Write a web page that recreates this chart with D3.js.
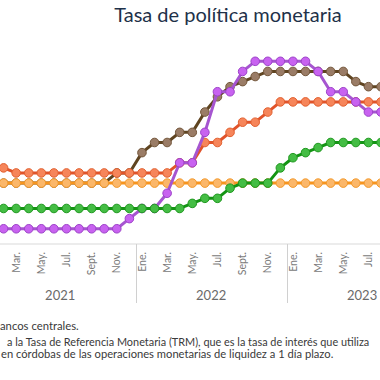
<!DOCTYPE html>
<html>
<head>
<meta charset="utf-8">
<script src="https://cdn.jsdelivr.net/npm/d3@7"></script>
<style>
  body { margin: 0; background: #fff; }
  svg { display: block; font-family: Lato, "Open Sans", sans-serif; }
</style>
</head>
<body>
<div id="chart"></div>
<script>
// months counted from Ene. 2021 (index 0) to Ago. 2023 (index 31)
var years = [2021, 2022, 2023];
var monthNames = ["Ene.", "Mar.", "May.", "Jul.", "Sept.", "Nov."];  // odd months only
var monthSteps = [0, 2, 4, 6, 8, 10];

// policy rates, %
var rojo = [3.75, 3.75, 3.5, 3.5, 3.5, 3.5, 3.5, 3.5, 3.5, 3.5, 3.5, 3.5,
            3.5, 3.5, 3.5, 4.0, 4.0, 5.0, 5.0, 5.5, 6.0, 6.0, 6.5, 7.0,
            7.0, 7.0, 7.0, 7.0, 7.0, 7.0, 7.0, 7.0];
var cafe = [3.0, 3.0, 3.0, 3.0, 3.0, 3.0, 3.0, 3.0, 3.0, 3.0, 3.5, 3.5,
            4.5, 5.0, 5.0, 5.5, 5.5, 6.5, 7.25, 7.75, 8.0, 8.25, 8.5, 8.5,
            8.5, 8.5, 8.5, 8.5, 8.5, 8.0, 7.75, 7.75];
var morado = [0.75, 0.75, 0.75, 0.75, 0.75, 0.75, 0.75, 0.75, 0.75, 0.75, 0.75, 1.25,
              1.75, 1.75, 2.5, 4.0, 4.0, 5.5, 7.5, 7.5, 8.5, 9.0, 9.0, 9.0,
              9.0, 9.0, 8.5, 7.5, 7.5, 7.0, 6.5, 6.5];
var verde = [1.75, 1.75, 1.75, 1.75, 1.75, 1.75, 1.75, 1.75, 1.75, 1.75, 1.75, 1.75,
             1.75, 1.75, 1.75, 1.75, 2.0, 2.25, 2.25, 2.75, 3.0, 3.0, 3.0, 3.75,
             4.25, 4.5, 4.75, 5.0, 5.0, 5.0, 5.0, 5.0];
var naranja = [3.0, 3.0, 3.0, 3.0, 3.0, 3.0, 3.0, 3.0, 3.0, 3.0, 3.0, 3.0,
               3.0, 3.0, 3.0, 3.0, 3.0, 3.0, 3.0, 3.0, 3.0, 3.0, 3.0, 3.0,
               3.0, 3.0, 3.0, 3.0, 3.0, 3.0, 3.0, 3.0];

// drawing order: bottom to top
var series = [
  {values: cafe,    line: "#5f4420", fill: "#9a7c66", stroke: "#73563a"},
  {values: naranja, line: "#f7941d", fill: "#fbb76a", stroke: "#f49a2c"},
  {values: rojo,    line: "#e0532a", fill: "#f6855a", stroke: "#e2602f"},
  {values: morado,  line: "#a655d0", fill: "#c862f0", stroke: "#9c42c8"},
  {values: verde,   line: "#139413", fill: "#44bd44", stroke: "#1f981f"}
];

var W = 380, H = 380;

var svg = d3.select("#chart")
  .append("svg")
    .attr("width", W)
    .attr("height", H);

var x = d3.scaleLinear()
          .domain([0, 31])
          .range([-9, 381]);

var y = d3.scaleLinear()
          .domain([0, 10])
          .range([244, 41]);

// title
svg.append("text")
   .attr("x", 228)
   .attr("y", 22)
   .attr("text-anchor", "middle")
   .attr("font-size", 20)
   .attr("fill", "#1e3149")
   .text("Tasa de política monetaria");

// baseline
svg.append("line")
   .attr("x1", 0).attr("x2", W)
   .attr("y1", y(0)).attr("y2", y(0))
   .attr("stroke", "#d9d9d9")
   .attr("stroke-width", 1);

// month ticks (Ene. 2021 falls outside the visible area)
var ticks = [];
years.forEach(function(yr, k){
  monthSteps.forEach(function(m, j){
    ticks.push({m: k*12 + m, label: monthNames[j]});
  });
});
ticks = ticks.filter(function(t){ return x(t.m) > 5 && x(t.m) < W - 5; });

svg.append("g")
  .selectAll("text")
  .data(ticks)
  .join("text")
    .attr("transform", function(d){ return "translate(" + x(d.m) + ",252) rotate(-90)"; })
    .attr("text-anchor", "end")
    .attr("dy", "0.35em")
    .attr("font-size", 10.5)
    .attr("fill", "#7a7a7a")
    .text(function(d){ return d.label; });

// year dividers and labels
svg.append("g")
  .selectAll("line")
  .data(years.slice(1))
  .join("line")
    .attr("x1", function(d, i){ return Math.round(x((i+1)*12 - 0.5)) + 0.5; })
    .attr("x2", function(d, i){ return Math.round(x((i+1)*12 - 0.5)) + 0.5; })
    .attr("y1", y(0))
    .attr("y2", 303)
    .attr("stroke", "#d0d0d0")
    .attr("stroke-width", 1);

svg.append("g")
  .selectAll("text")
  .data(years)
  .join("text")
    .attr("x", function(d, i){ return x(i*12 + 5.5); })
    .attr("y", 300)
    .attr("text-anchor", "middle")
    .attr("font-size", 13)
    .attr("fill", "#6a6a6a")
    .text(function(d){ return d; });

// series
var line = d3.line()
  .x(function(d, i){ return x(i); })
  .y(function(d){ return y(d); });

series.forEach(function(s){
  var g = svg.append("g");
  g.append("path")
   .datum(s.values)
   .attr("fill", "none")
   .attr("stroke", s.line)
   .attr("stroke-width", 3)
   .attr("stroke-linejoin", "round")
   .attr("d", line);
  g.selectAll("circle")
   .data(s.values)
   .join("circle")
     .attr("cx", function(d, i){ return x(i); })
     .attr("cy", function(d){ return y(d); })
     .attr("r", 4.3)
     .attr("fill", s.fill)
     .attr("stroke", s.stroke)
     .attr("stroke-width", 1);
});

// notes (cut at the left edge like the original)
var notes = [
  {x: 0, y: 330, size: 11.3, text: "ancos centrales."},
  {x: 7, y: 346, size: 10.9, text: "a la Tasa de Referencia Monetaria (TRM), que es la tasa de interés que utiliza"},
  {x: 1, y: 358, size: 11.2, text: "en córdobas de las operaciones monetarias de liquidez a 1 día plazo."}
];
svg.append("g")
  .selectAll("text")
  .data(notes)
  .join("text")
    .attr("x", function(d){ return d.x; })
    .attr("y", function(d){ return d.y; })
    .attr("font-size", function(d){ return d.size; })
    .attr("fill", "#3a3a3a")
    .text(function(d){ return d.text; });
</script>
</body>
</html>
